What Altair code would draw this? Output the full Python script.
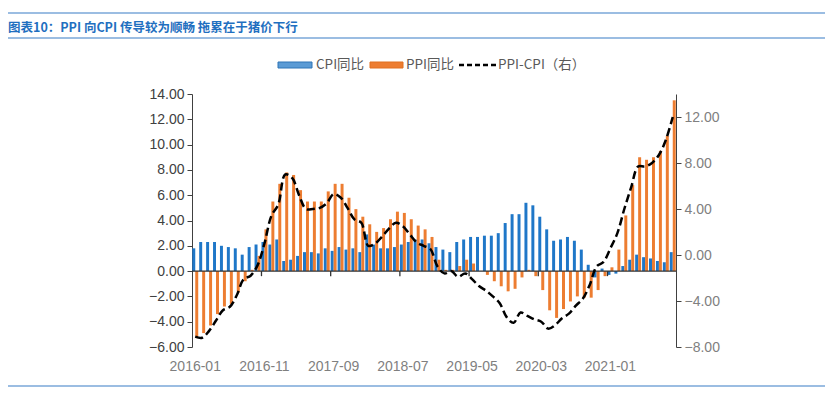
import altair as alt
import pandas as pd

months = [f"{y}-{m:02d}" for y in range(2016, 2022) for m in range(1, 13)][:70]

cpi = [1.8, 2.3, 2.3, 2.3, 2.0, 1.9, 1.8, 1.3, 1.9, 2.1, 2.3, 2.1,
       2.5, 0.8, 0.9, 1.2, 1.5, 1.5, 1.4, 1.8, 1.6, 1.9, 1.7, 1.8,
       1.5, 2.9, 2.1, 1.8, 1.8, 1.9, 2.1, 2.3, 2.5, 2.5, 2.2, 1.9,
       1.7, 1.5, 2.3, 2.5, 2.7, 2.7, 2.8, 2.8, 3.0, 3.8, 4.5, 4.5,
       5.4, 5.2, 4.3, 3.3, 2.4, 2.5, 2.7, 2.4, 1.7, 0.5, -0.5, 0.2,
       -0.3, -0.2, 0.4, 0.9, 1.3, 1.1, 1.0, 0.8, 0.7, 1.5]

ppi = [-5.3, -4.9, -4.3, -3.4, -2.8, -2.6, -1.7, -0.8, 0.1, 1.2, 3.3, 5.5,
       6.9, 7.8, 7.6, 6.4, 5.5, 5.5, 5.5, 6.3, 6.9, 6.9, 5.8, 4.9,
       4.3, 3.7, 3.1, 3.4, 4.1, 4.7, 4.6, 4.1, 3.6, 3.3, 2.7, 0.9,
       0.1, 0.1, 0.4, 0.9, 0.6, 0.0, -0.3, -0.8, -1.2, -1.6, -1.4, -0.5,
       0.1, -0.4, -1.5, -3.1, -3.7, -3.0, -2.4, -2.0, -2.1, -2.1, -1.5, -0.4,
       0.3, 1.7, 4.4, 6.8, 9.0, 8.8, 9.0, 9.5, 10.7, 13.5]

gap = [-7.1, -7.2, -6.6, -5.7, -4.8, -4.5, -3.5, -2.1, -1.8, -0.9, 1.0, 3.4,
       4.4, 7.0, 6.7, 5.2, 4.0, 4.0, 4.1, 4.5, 5.3, 5.0, 4.1, 3.1,
       2.8, 0.8, 1.0, 1.6, 2.3, 2.8, 2.5, 1.8, 1.1, 0.8, 0.5, -1.0,
       -1.6, -1.4, -1.9, -1.6, -2.1, -2.7, -3.1, -3.6, -4.2, -5.4, -5.9, -5.0,
       -5.3, -5.6, -5.8, -6.4, -6.1, -5.5, -5.1, -4.4, -3.8, -2.6, -1.0, -0.6,
       0.6, 1.9, 4.0, 5.9, 7.7, 7.7, 8.0, 8.7, 10.0, 12.0]

series = ["CPI同比", "PPI同比"]
tick_labels = ["2016-01", "2016-11", "2017-09", "2018-07", "2019-05", "2020-03", "2021-01"]
tick_marks = ["2016-11", "2017-09", "2018-07", "2019-05", "2020-03", "2021-01"]
left_ticks = [-6, -4, -2, 0, 2, 4, 6, 8, 10, 12, 14]
right_ticks = [-8, -4, 0, 4, 8, 12]
title_text = "图表10：PPI 向CPI 传导较为顺畅 拖累在于猪价下行"

df_bars = pd.DataFrame({
    "month": months * 2,
    "series": [series[0]] * len(months) + [series[1]] * len(months),
    "value": cpi + ppi,
})
df_line = pd.DataFrame({"month": months, "gap": gap})
df_ticks = pd.DataFrame({"month": tick_marks})
one = pd.DataFrame({"a": [0]})

LF = "Liberation Sans"
CJK = "Noto Sans CJK SC"

x_scale = alt.Scale(domain=months, paddingInner=0.14, paddingOuter=0.04)
x_axis = alt.Axis(values=tick_labels, labelAngle=0, title=None, domain=False,
                  ticks=False, labelPadding=12, labelFontSize=14,
                  labelColor="#7f7f7f", labelFont=LF, labelOverlap=False)
yl_scale = alt.Scale(domain=[-6, 14], nice=False)
yl_axis = alt.Axis(values=left_ticks, format=".2f", title=None,
                   domainColor="#404040", tickColor="#404040", tickSize=5,
                   labelColor="#404040", labelFontSize=14, labelFont=LF,
                   labelPadding=3, labelOverlap=False)

bars = alt.Chart(df_bars).mark_bar().encode(
    x=alt.X("month:N", scale=x_scale, sort=months, axis=x_axis),
    xOffset=alt.XOffset("series:N", sort=series,
                        scale=alt.Scale(domain=series, paddingInner=0, paddingOuter=0)),
    y=alt.Y("value:Q", scale=yl_scale, axis=yl_axis),
    color=alt.Color("series:N", scale=alt.Scale(domain=series, range=["#1F77C8", "#ED7D31"]),
                    legend=None),
)

zero = alt.Chart(one).mark_rule(color="#333333", strokeWidth=1.3).encode(
    y=alt.YDatum(0, scale=yl_scale, axis=yl_axis))

xticks = alt.Chart(df_ticks).mark_rule(color="#333333", strokeWidth=1.3).encode(
    x=alt.X("month:N", scale=x_scale, sort=months, bandPosition=0, axis=x_axis),
    y=alt.YDatum(0, scale=yl_scale, axis=yl_axis),
    y2=alt.Y2Datum(-0.4),
)

left = alt.layer(bars, zero, xticks)

line = alt.Chart(df_line).mark_line(color="black", strokeWidth=2.5, strokeDash=[8, 4],
                                    interpolate="catmull-rom").encode(
    x=alt.X("month:N", scale=x_scale, sort=months, axis=x_axis),
    y=alt.Y("gap:Q", scale=alt.Scale(domain=[-8, 14], nice=False),
            axis=alt.Axis(orient="right", values=right_ticks, format=".2f", title=None,
                          domainColor="#404040", tickColor="#404040", tickSize=5,
                          labelColor="#808080", labelFontSize=14, labelFont=LF,
                          labelPadding=3, labelOverlap=False)),
)

base = alt.Chart(one)
leg_cpi = base.mark_rect(fill="#5B9BD5", stroke="#2E75B6", strokeWidth=1).encode(
    x=alt.value(86), x2=alt.value(120), y=alt.value(-32), y2=alt.value(-26))
leg_ppi = base.mark_rect(fill="#ED7D31", stroke="#E07020", strokeWidth=1).encode(
    x=alt.value(178), x2=alt.value(211), y=alt.value(-32), y2=alt.value(-26))
leg_gap = base.mark_rule(color="black", strokeWidth=2.5, strokeDash=[5, 3]).encode(
    x=alt.value(267), x2=alt.value(304), y=alt.value(-29))
leg_t1 = base.mark_text(align="left", baseline="middle", fontSize=13.5, color="#595959",
                        font=CJK).encode(x=alt.value(124), y=alt.value(-29),
                                         text=alt.value("CPI同比"))
leg_t2 = base.mark_text(align="left", baseline="middle", fontSize=13.5, color="#595959",
                        font=CJK).encode(x=alt.value(214), y=alt.value(-29),
                                         text=alt.value("PPI同比"))
leg_t3 = base.mark_text(align="left", baseline="middle", fontSize=13.5, color="#595959",
                        font=CJK).encode(x=alt.value(306), y=alt.value(-29),
                                         text=alt.value("PPI-CPI（右）"))

title = base.mark_text(align="left", baseline="middle", fontSize=12.5, fontWeight="bold",
                       color="#1F6FC0", font=CJK).encode(
    x=alt.value(-184), y=alt.value(-66), text=alt.value(title_text))
hl1 = base.mark_rule(color="#7AA7D9", strokeWidth=1.5).encode(
    x=alt.value(-192), x2=alt.value(641), y=alt.value(-81))
hl2 = base.mark_rule(color="#7AA7D9", strokeWidth=1.5).encode(
    x=alt.value(-192), x2=alt.value(641), y=alt.value(-56))
hl3 = base.mark_rule(color="#7AA7D9", strokeWidth=1.5).encode(
    x=alt.value(-192), x2=alt.value(641), y=alt.value(292))

chart = alt.layer(
    left, line, leg_cpi, leg_ppi, leg_gap, leg_t1, leg_t2, leg_t3, title, hl1, hl2, hl3
).resolve_scale(y="independent").properties(
    width=484, height=253,
    autosize=alt.AutoSizeParams(type="none"),
    padding={"left": 184, "top": 86, "right": 149, "bottom": 40},
).configure_view(stroke=None).configure_axis(grid=False)

chart.save("out.html", embed_options={"renderer": "svg", "actions": False})
